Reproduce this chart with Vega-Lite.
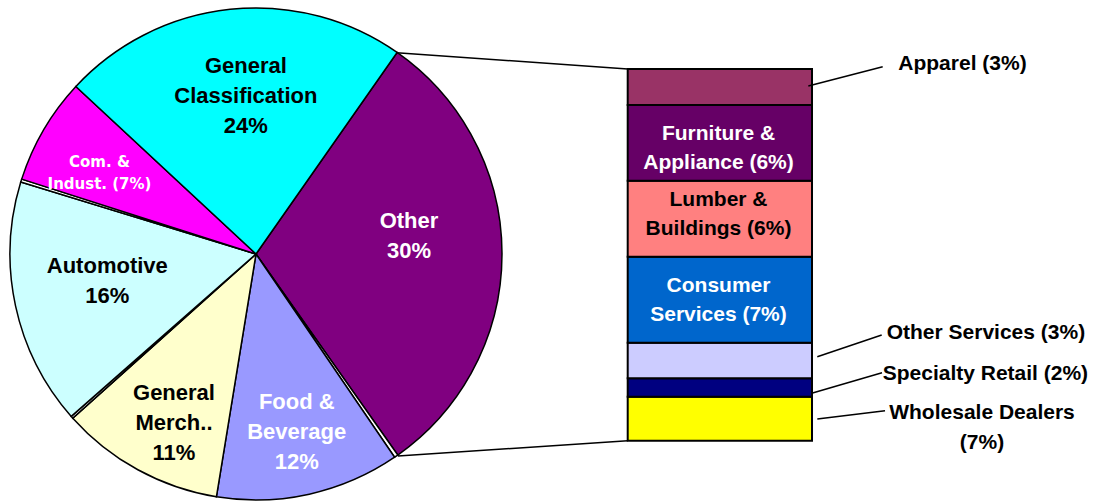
{
  "$schema": "https://vega.github.io/schema/vega-lite/v6.json",
  "width": 1103,
  "height": 502,
  "padding": 0,
  "autosize": {"type": "none"},
  "background": "white",
  "config": {"view": {"stroke": null}, "text": {"font": "Liberation Sans", "fontWeight": "bold"}},
  "datasets": {
    "pie": [
      {"idx": 1, "name": "Other", "value": 30.5, "label": "Other\n30%"},
      {"idx": 2, "name": "gap 1", "value": 0.25, "label": ""},
      {"idx": 3, "name": "Food & Beverage", "value": 12.1, "label": "Food &\nBeverage\n12%"},
      {"idx": 4, "name": "General Merch.", "value": 10.8, "label": "General\nMerch..\n11%"},
      {"idx": 5, "name": "gap 2", "value": 0.15, "label": ""},
      {"idx": 6, "name": "Automotive", "value": 16.2, "label": "Automotive\n16%"},
      {"idx": 7, "name": "gap 3", "value": 0.2, "label": ""},
      {"idx": 8, "name": "Com. & Indust.", "value": 7.0, "label": "Com. &\nIndust. (7%)"},
      {"idx": 9, "name": "General Classification", "value": 22.8, "label": "General\nClassification\n24%"}
    ],
    "bar": [
      {"idx": 1, "name": "Wholesale Dealers", "value": 3.55, "label": "Wholesale Dealers\n(7%)"},
      {"idx": 2, "name": "Specialty Retail", "value": 1.49, "label": "Specialty Retail (2%)"},
      {"idx": 3, "name": "Other Services", "value": 2.87, "label": "Other Services (3%)"},
      {"idx": 4, "name": "Consumer Services", "value": 6.94, "label": "Consumer\nServices (7%)"},
      {"idx": 5, "name": "Lumber & Buildings", "value": 6.13, "label": "Lumber &\nBuildings (6%)"},
      {"idx": 6, "name": "Furniture & Appliance", "value": 6.11, "label": "Furniture &\nAppliance (6%)"},
      {"idx": 7, "name": "Apparel", "value": 2.91, "label": "Apparel (3%)"}
    ]
  },
  "layer": [
    {
      "data": {"name": "pie"},
      "mark": {"type": "arc", "outerRadius": 246, "stroke": "black", "strokeWidth": 1.5},
      "encoding": {
        "x": {"datum": 20.662, "type": "quantitative", "scale": {"domain": [0, 89.023], "nice": false, "zero": false}, "axis": null},
        "y": {"datum": 15.069, "type": "quantitative", "scale": {"domain": [-4.948, 35.569], "nice": false, "zero": false}, "axis": null},
        "theta": {"field": "value", "type": "quantitative", "stack": true, "scale": {"domain": [0, 100], "range": [0.6109, 6.8941]}},
        "order": {"field": "idx", "type": "quantitative"},
        "color": {
          "field": "name", "type": "nominal", "legend": null,
          "scale": {
            "domain": ["Other", "gap 1", "Food & Beverage", "General Merch.", "gap 2", "Automotive", "gap 3", "Com. & Indust.", "General Classification"],
            "range": ["#800080", "#ffffff", "#9999ff", "#ffffcc", "#ffffff", "#ccffff", "#ffffff", "#ff00ff", "#00ffff"]
          }
        }
      }
    },
    {
      "data": {"name": "pie"},
      "mark": {"type": "text", "radius": 160, "dx": 6.7, "dy": -28.7, "fontSize": 22, "lineBreak": "\n", "lineHeight": 30, "align": "center", "baseline": "middle", "color": "black"},
      "encoding": {
        "x": {"datum": 20.662, "type": "quantitative"},
        "y": {"datum": 15.069, "type": "quantitative"},
        "theta": {"field": "value", "type": "quantitative", "stack": true, "scale": {"domain": [0, 100], "range": [0.6109, 6.8941]}},
        "order": {"field": "idx", "type": "quantitative"},
        "detail": {"field": "name", "type": "nominal"},
        "text": {"condition": {"test": "datum.name === 'General Classification'", "field": "label", "type": "nominal"}, "value": ""}
      }
    },
    {
      "data": {"name": "pie"},
      "mark": {"type": "text", "radius": 160, "dx": -7, "dy": -33, "fontSize": 22, "lineBreak": "\n", "lineHeight": 30, "align": "center", "baseline": "middle", "color": "white"},
      "encoding": {
        "x": {"datum": 20.662, "type": "quantitative"},
        "y": {"datum": 15.069, "type": "quantitative"},
        "theta": {"field": "value", "type": "quantitative", "stack": true, "scale": {"domain": [0, 100], "range": [0.6109, 6.8941]}},
        "order": {"field": "idx", "type": "quantitative"},
        "detail": {"field": "name", "type": "nominal"},
        "text": {"condition": {"test": "datum.name === 'Other'", "field": "label", "type": "nominal"}, "value": ""}
      }
    },
    {
      "data": {"name": "pie"},
      "mark": {"type": "text", "radius": 160, "dx": 7.7, "dy": -21.5, "fontSize": 22, "lineBreak": "\n", "lineHeight": 30, "align": "center", "baseline": "middle", "color": "black"},
      "encoding": {
        "x": {"datum": 20.662, "type": "quantitative"},
        "y": {"datum": 15.069, "type": "quantitative"},
        "theta": {"field": "value", "type": "quantitative", "stack": true, "scale": {"domain": [0, 100], "range": [0.6109, 6.8941]}},
        "order": {"field": "idx", "type": "quantitative"},
        "detail": {"field": "name", "type": "nominal"},
        "text": {"condition": {"test": "datum.name === 'Automotive'", "field": "label", "type": "nominal"}, "value": ""}
      }
    },
    {
      "data": {"name": "pie"},
      "mark": {"type": "text", "radius": 182, "dx": 1.3, "dy": -29.4, "fontSize": 22, "lineBreak": "\n", "lineHeight": 30, "align": "center", "baseline": "middle", "color": "white"},
      "encoding": {
        "x": {"datum": 20.662, "type": "quantitative"},
        "y": {"datum": 15.069, "type": "quantitative"},
        "theta": {"field": "value", "type": "quantitative", "stack": true, "scale": {"domain": [0, 100], "range": [0.6109, 6.8941]}},
        "order": {"field": "idx", "type": "quantitative"},
        "detail": {"field": "name", "type": "nominal"},
        "text": {"condition": {"test": "datum.name === 'Food & Beverage'", "field": "label", "type": "nominal"}, "value": ""}
      }
    },
    {
      "data": {"name": "pie"},
      "mark": {"type": "text", "radius": 182, "dx": 5.4, "dy": -20.8, "fontSize": 22, "lineBreak": "\n", "lineHeight": 30, "align": "center", "baseline": "middle", "color": "black"},
      "encoding": {
        "x": {"datum": 20.662, "type": "quantitative"},
        "y": {"datum": 15.069, "type": "quantitative"},
        "theta": {"field": "value", "type": "quantitative", "stack": true, "scale": {"domain": [0, 100], "range": [0.6109, 6.8941]}},
        "order": {"field": "idx", "type": "quantitative"},
        "detail": {"field": "name", "type": "nominal"},
        "text": {"condition": {"test": "datum.name === 'General Merch.'", "field": "label", "type": "nominal"}, "value": ""}
      }
    },
    {
      "data": {"name": "pie"},
      "mark": {"type": "text", "radius": 182, "dx": 0.6, "dy": 0.3, "font": "DejaVu Sans", "fontSize": 15, "lineBreak": "\n", "lineHeight": 22, "align": "center", "baseline": "middle", "color": "white"},
      "encoding": {
        "x": {"datum": 20.662, "type": "quantitative"},
        "y": {"datum": 15.069, "type": "quantitative"},
        "theta": {"field": "value", "type": "quantitative", "stack": true, "scale": {"domain": [0, 100], "range": [0.6109, 6.8941]}},
        "order": {"field": "idx", "type": "quantitative"},
        "detail": {"field": "name", "type": "nominal"},
        "text": {"condition": {"test": "datum.name === 'Com. & Indust.'", "field": "label", "type": "nominal"}, "value": ""}
      }
    },
    {
      "data": {"name": "bar"},
      "transform": [{"stack": "value", "groupby": [], "sort": [{"field": "idx", "order": "ascending"}], "as": ["y0", "y1"]}],
      "mark": {"type": "rect", "stroke": "black", "strokeWidth": 2},
      "encoding": {
        "x": {"datum": 50.662, "type": "quantitative"},
        "x2": {"datum": 65.537},
        "y": {"field": "y0", "type": "quantitative"},
        "y2": {"field": "y1"},
        "fill": {
          "field": "name", "type": "nominal", "legend": null,
          "scale": {
            "domain": ["Wholesale Dealers", "Specialty Retail", "Other Services", "Consumer Services", "Lumber & Buildings", "Furniture & Appliance", "Apparel"],
            "range": ["#ffff00", "#000080", "#ccccff", "#0066cc", "#ff8080", "#660066", "#993366"]
          }
        }
      }
    },
    {
      "data": {"name": "bar"},
      "transform": [
        {"stack": "value", "groupby": [], "sort": [{"field": "idx", "order": "ascending"}], "as": ["y0", "y1"]},
        {"filter": {"field": "name", "oneOf": ["Furniture & Appliance", "Consumer Services"]}}
      ],
      "mark": {"type": "text", "dy": 29.3, "fontSize": 21, "lineBreak": "\n", "lineHeight": 29, "align": "center", "baseline": "middle", "color": "white"},
      "encoding": {
        "x": {"datum": 57.99, "type": "quantitative"},
        "y": {"field": "y1", "type": "quantitative"},
        "text": {"field": "label", "type": "nominal"}
      }
    },
    {
      "data": {"name": "bar"},
      "transform": [
        {"stack": "value", "groupby": [], "sort": [{"field": "idx", "order": "ascending"}], "as": ["y0", "y1"]},
        {"filter": {"field": "name", "equal": "Lumber & Buildings"}}
      ],
      "mark": {"type": "text", "dy": 19, "fontSize": 21, "lineBreak": "\n", "lineHeight": 29, "align": "center", "baseline": "middle", "color": "black"},
      "encoding": {
        "x": {"datum": 57.99, "type": "quantitative"},
        "y": {"field": "y1", "type": "quantitative"},
        "text": {"field": "label", "type": "nominal"}
      }
    },
    {
      "data": {"name": "bar"},
      "transform": [{"filter": {"field": "name", "equal": "Apparel"}}],
      "mark": {"type": "text", "fontSize": 21, "align": "left", "baseline": "middle", "color": "black"},
      "encoding": {"x": {"datum": 72.502, "type": "quantitative"}, "y": {"datum": 30.387, "type": "quantitative"}, "text": {"field": "label", "type": "nominal"}}
    },
    {
      "data": {"name": "bar"},
      "transform": [{"filter": {"field": "name", "equal": "Other Services"}}],
      "mark": {"type": "text", "fontSize": 21, "align": "left", "baseline": "middle", "color": "black"},
      "encoding": {"x": {"datum": 71.566, "type": "quantitative"}, "y": {"datum": 8.66, "type": "quantitative"}, "text": {"field": "label", "type": "nominal"}}
    },
    {
      "data": {"name": "bar"},
      "transform": [{"filter": {"field": "name", "equal": "Specialty Retail"}}],
      "mark": {"type": "text", "fontSize": 21, "align": "left", "baseline": "middle", "color": "black"},
      "encoding": {"x": {"datum": 71.243, "type": "quantitative"}, "y": {"datum": 5.383, "type": "quantitative"}, "text": {"field": "label", "type": "nominal"}}
    },
    {
      "data": {"name": "bar"},
      "transform": [{"filter": {"field": "name", "equal": "Wholesale Dealers"}}],
      "mark": {"type": "text", "fontSize": 21, "lineBreak": "\n", "lineHeight": 30.5, "align": "center", "baseline": "middle", "color": "black"},
      "encoding": {"x": {"datum": 79.258, "type": "quantitative"}, "y": {"datum": 2.24, "type": "quantitative"}, "text": {"field": "label", "type": "nominal"}}
    },
    {
      "data": {"values": [{}]},
      "mark": {"type": "rule", "color": "black", "strokeWidth": 1.5},
      "encoding": {"x": {"datum": 32.018, "type": "quantitative"}, "y": {"datum": 31.316, "type": "quantitative"}, "x2": {"datum": 50.662}, "y2": {"datum": 30}}
    },
    {
      "data": {"values": [{}]},
      "mark": {"type": "rule", "color": "black", "strokeWidth": 1.5},
      "encoding": {"x": {"datum": 32.123, "type": "quantitative"}, "y": {"datum": -1.235, "type": "quantitative"}, "x2": {"datum": 50.662}, "y2": {"datum": 0}}
    },
    {
      "data": {"values": [{}]},
      "mark": {"type": "rule", "color": "black", "strokeWidth": 1.5},
      "encoding": {"x": {"datum": 65.238, "type": "quantitative"}, "y": {"datum": 28.628, "type": "quantitative"}, "x2": {"datum": 71.243}, "y2": {"datum": 30.186}}
    },
    {
      "data": {"values": [{}]},
      "mark": {"type": "rule", "color": "black", "strokeWidth": 1.5},
      "encoding": {"x": {"datum": 65.964, "type": "quantitative"}, "y": {"datum": 6.78, "type": "quantitative"}, "x2": {"datum": 71.162}, "y2": {"datum": 8.531}}
    },
    {
      "data": {"values": [{}]},
      "mark": {"type": "rule", "color": "black", "strokeWidth": 1.5},
      "encoding": {"x": {"datum": 65.512, "type": "quantitative"}, "y": {"datum": 3.826, "type": "quantitative"}, "x2": {"datum": 71.186}, "y2": {"datum": 5.488}}
    },
    {
      "data": {"values": [{}]},
      "mark": {"type": "rule", "color": "black", "strokeWidth": 1.5},
      "encoding": {"x": {"datum": 65.964, "type": "quantitative"}, "y": {"datum": 1.751, "type": "quantitative"}, "x2": {"datum": 71.429}, "y2": {"datum": 2.421}}
    }
  ]
}
